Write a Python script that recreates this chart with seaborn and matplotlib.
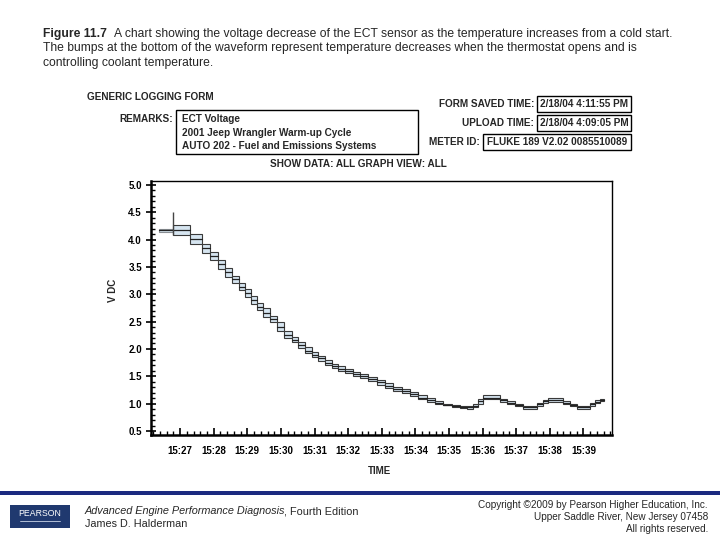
import matplotlib
matplotlib.use("Agg")
import matplotlib.pyplot as plt
import seaborn as sns
import pandas as pd
import numpy as np
from matplotlib.patches import Rectangle
from matplotlib.lines import Line2D
from matplotlib.ticker import FixedLocator, MultipleLocator, FormatStrFormatter

# ---------------- data (seconds after 15:26:00) ----------------
step_start = [22, 47, 78, 99, 114, 128, 140, 153, 165, 176, 187, 198, 208, 221, 233,
              246, 260, 271, 283, 296, 306, 319, 331, 342, 355, 369, 381, 396, 412, 426,
              440, 456, 471, 485, 501, 515, 530, 546, 560, 573, 583, 592, 601, 631, 644,
              658, 672, 697, 708, 717, 744, 756, 769, 792, 801, 810]
step_end = [47, 78, 99, 114, 128, 140, 153, 165, 176, 187, 198, 208, 221, 233, 246,
            260, 271, 283, 296, 306, 319, 331, 342, 355, 369, 381, 396, 412, 426, 440,
            456, 471, 485, 501, 515, 530, 546, 560, 573, 583, 592, 601, 631, 644, 658,
            672, 697, 708, 717, 744, 756, 769, 792, 801, 810, 817]
v_min = [4.14, 4.08, 3.92, 3.76, 3.62, 3.47, 3.32, 3.20, 3.07, 2.95, 2.82, 2.71, 2.59, 2.50, 2.33,
         2.20, 2.12, 2.02, 1.93, 1.85, 1.78, 1.71, 1.65, 1.60, 1.56, 1.51, 1.47, 1.41, 1.35, 1.29,
         1.24, 1.19, 1.14, 1.08, 1.03, 1.00, 0.97, 0.94, 0.92, 0.91, 0.94, 1.00, 1.08, 1.03, 0.99,
         0.95, 0.91, 0.96, 1.01, 1.03, 0.99, 0.95, 0.91, 0.96, 1.01, 1.05]
v_max = [4.20, 4.27, 4.10, 3.92, 3.77, 3.62, 3.48, 3.34, 3.20, 3.09, 2.96, 2.84, 2.74, 2.60, 2.50,
         2.33, 2.22, 2.12, 2.03, 1.95, 1.88, 1.80, 1.73, 1.68, 1.63, 1.58, 1.54, 1.49, 1.43, 1.37,
         1.31, 1.27, 1.22, 1.15, 1.10, 1.05, 1.00, 0.98, 0.96, 0.95, 0.99, 1.08, 1.15, 1.09, 1.05,
         1.00, 0.96, 1.01, 1.06, 1.10, 1.04, 1.00, 0.96, 1.01, 1.06, 1.08]
v_avg = [4.17, 4.17, 4.01, 3.84, 3.69, 3.55, 3.40, 3.27, 3.13, 3.02, 2.89, 2.77, 2.66, 2.55, 2.40,
         2.26, 2.16, 2.07, 1.97, 1.89, 1.83, 1.75, 1.69, 1.64, 1.59, 1.55, 1.51, 1.45, 1.39, 1.33,
         1.27, 1.23, 1.18, 1.11, 1.06, 1.02, 0.98, 0.96, 0.94, 0.93, 0.96, 1.04, 1.11, 1.06, 1.02,
         0.97, 0.93, 0.99, 1.04, 1.06, 1.01, 0.97, 0.93, 0.99, 1.03, 1.07]
spike_time = 47
spike_low = 4.08
spike_high = 4.50
tick_seconds = [60, 120, 180, 240, 300, 360, 420, 480, 540, 600, 660, 720, 780]
tick_labels = ["15:27", "15:28", "15:29", "15:30", "15:31", "15:32", "15:33",
               "15:34", "15:35", "15:36", "15:37", "15:38", "15:39"]
y_ticks = [0.5, 1.0, 1.5, 2.0, 2.5, 3.0, 3.5, 4.0, 4.5, 5.0]

# ---------------- figure ----------------
sns.set_theme(style="white")
plt.rcParams['font.family'] = ['Liberation Sans', 'DejaVu Sans']

W, H = 720, 540
fig = plt.figure(figsize=(7.2, 5.4), dpi=100)
fig.patch.set_facecolor("white")

def fx(x):
    return x / W

def fy(y):
    return 1 - y / H

ax = fig.add_axes([fx(151), fy(435), fx(612) - fx(151), fy(181) - fy(435)])
ax.set_facecolor("white")

df = pd.DataFrame({"start": step_start, "end": step_end, "vmin": v_min,
                   "vmax": v_max, "vavg": v_avg})
edge_cols = ["#8a8f94"] + ["#3a3a3a"] * (len(df) - 1)
ax.bar(df["start"], df["vmax"] - df["vmin"], width=df["end"] - df["start"],
       bottom=df["vmin"], align="edge", color="#d6e5f0", edgecolor=edge_cols,
       linewidth=0.8, zorder=2)

long = pd.DataFrame({
    "t": np.ravel(np.column_stack([df["start"], df["end"]])),
    "v": np.repeat(df["vavg"].values, 2),
    "step": np.repeat(np.arange(len(df)), 2),
})
sns.lineplot(data=long, x="t", y="v", units="step", estimator=None,
             color="#222222", linewidth=0.9, ax=ax, zorder=3)
ax.vlines(spike_time, spike_low, spike_high, color="#444444", linewidth=1.0, zorder=3)

ax.set_xlim(8, 831)
ax.set_ylim(0.427, 5.07)
ax.xaxis.set_major_locator(FixedLocator(tick_seconds))
ax.set_xticklabels(tick_labels)
ax.xaxis.set_minor_locator(MultipleLocator(12))
ax.yaxis.set_major_locator(FixedLocator(y_ticks))
ax.yaxis.set_major_formatter(FormatStrFormatter("%.1f"))
ax.yaxis.set_minor_locator(MultipleLocator(0.1))
ax.set_xlabel("")
ax.set_ylabel("")

ax.tick_params(axis="x", which="major", direction="in", length=5, width=1.2,
               colors="black", labelsize=7, pad=8, bottom=True)
ax.tick_params(axis="x", which="minor", direction="in", length=3, width=1.0,
               colors="black", bottom=True)
ax.tick_params(axis="y", which="major", direction="inout", length=7, width=1.2,
               colors="black", labelsize=7, pad=3, left=True)
ax.tick_params(axis="y", which="minor", direction="in", length=3, width=1.0,
               colors="black", left=True)
for lab in ax.get_xticklabels() + ax.get_yticklabels():
    lab.set_fontweight("bold")

for side in ["left", "bottom"]:
    ax.spines[side].set_linewidth(1.8)
    ax.spines[side].set_color("black")
for side in ["top", "right"]:
    ax.spines[side].set_linewidth(1.0)
    ax.spines[side].set_color("black")
ax.grid(False)

fig.text(fx(113), fy(290), "V DC", rotation=90, ha="center", va="center",
         fontsize=7, fontweight="bold")
fig.text(fx(380), fy(471), "TIME", ha="center", va="center",
         fontsize=7, fontweight="bold")

# ---------------- header form ----------------
hb = dict(fontsize=7.2, fontweight="bold", va="center")
fig.text(fx(87), fy(97), "GENERIC LOGGING FORM", ha="left", **hb)
fig.text(fx(173), fy(119), "REMARKS:", ha="right", **hb)
fig.add_artist(Rectangle((fx(176), fy(154)), fx(418) - fx(176), fy(110) - fy(154),
                         transform=fig.transFigure, fill=False, edgecolor="black", linewidth=1.0))
fig.text(fx(182), fy(119), "ECT Voltage", ha="left", **hb)
fig.text(fx(182), fy(132.5), "2001 Jeep Wrangler Warm-up Cycle", ha="left", **hb)
fig.text(fx(182), fy(146), "AUTO 202 - Fuel and Emissions Systems", ha="left", **hb)

fig.text(fx(534), fy(104), "FORM SAVED TIME:", ha="right", **hb)
fig.add_artist(Rectangle((fx(537), fy(112)), fx(631) - fx(537), fy(96) - fy(112),
                         transform=fig.transFigure, fill=False, edgecolor="black", linewidth=1.0))
fig.text(fx(584), fy(104), "2/18/04 4:11:55 PM", ha="center", **hb)

fig.text(fx(534), fy(123), "UPLOAD TIME:", ha="right", **hb)
fig.add_artist(Rectangle((fx(537), fy(131)), fx(631) - fx(537), fy(115) - fy(131),
                         transform=fig.transFigure, fill=False, edgecolor="black", linewidth=1.0))
fig.text(fx(584), fy(123), "2/18/04 4:09:05 PM", ha="center", **hb)

fig.text(fx(480), fy(142), "METER ID:", ha="right", **hb)
fig.add_artist(Rectangle((fx(483), fy(150)), fx(631) - fx(483), fy(134) - fy(150),
                         transform=fig.transFigure, fill=False, edgecolor="black", linewidth=1.0))
fig.text(fx(557), fy(142), "FLUKE 189 V2.02 0085510089", ha="center", **hb)

fig.text(fx(358), fy(164), "SHOW DATA: ALL GRAPH VIEW: ALL", ha="center", **hb)

# ---------------- caption ----------------
renderer = fig.canvas.get_renderer()
cap = dict(fontsize=8.7, va="center", ha="left")
t_fig = fig.text(fx(43), fy(34), "Figure 11.7", fontweight="bold", **cap)
bb = t_fig.get_window_extent(renderer=renderer)
fig.text(fx(bb.x1 + 7), fy(34), "A chart showing the voltage decrease of the ECT sensor as the temperature increases from a cold start.", **cap)
fig.text(fx(43), fy(48.5), "The bumps at the bottom of the waveform represent temperature decreases when the thermostat opens and is", **cap)
fig.text(fx(43), fy(63), "controlling coolant temperature.", **cap)

# ---------------- footer ----------------
fig.add_artist(Rectangle((0, fy(495)), 1, fy(491) - fy(495), transform=fig.transFigure,
                         facecolor="#1b2a80", edgecolor="none"))
fig.add_artist(Rectangle((fx(10), fy(528)), fx(70) - fx(10), fy(505) - fy(528),
                         transform=fig.transFigure, facecolor="#20396f", edgecolor="none"))
fig.text(fx(40), fy(514), "PEARSON", ha="center", va="center", fontsize=6.3,
         color="white")
fig.add_artist(Line2D([fx(20), fx(60)], [fy(521), fy(521)], transform=fig.transFigure,
                      color="#c9d4e6", linewidth=0.6))

t_it = fig.text(fx(85), fy(511), "Advanced Engine Performance Diagnosis", fontsize=7.8,
                style="italic", ha="left", va="center")
bb2 = t_it.get_window_extent(renderer=renderer)
fig.text(fx(bb2.x1 - 1.5), fy(511), ", Fourth Edition", fontsize=7.8, ha="left", va="center")
fig.text(fx(85), fy(524), "James D. Halderman", fontsize=7.8, ha="left", va="center")

fig.text(fx(708), fy(505), "Copyright \u00a92009 by Pearson Higher Education, Inc.",
         fontsize=7.2, ha="right", va="center")
fig.text(fx(708), fy(517), "Upper Saddle River, New Jersey 07458",
         fontsize=7.2, ha="right", va="center")
fig.text(fx(708), fy(529), "All rights reserved.", fontsize=7.2, ha="right", va="center")

fig.savefig("out.png", dpi=100, facecolor="white")
